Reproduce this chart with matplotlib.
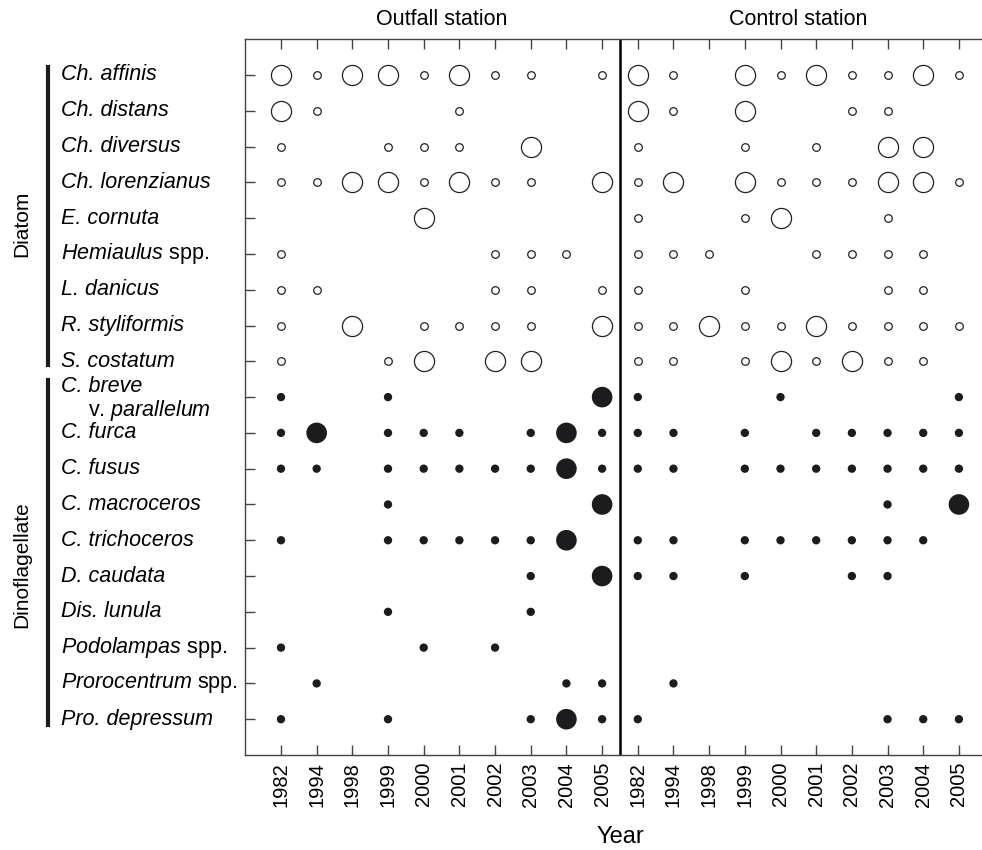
import matplotlib
matplotlib.use("Agg")
import matplotlib.pyplot as plt
import numpy as np

plt.rcParams['font.family'] = ['Liberation Sans', 'DejaVu Sans']
plt.rcParams['mathtext.fontset'] = 'custom'
plt.rcParams['mathtext.it'] = 'Liberation Sans:italic'
plt.rcParams['mathtext.rm'] = 'Liberation Sans'

# ---- data ----
years = ['1982', '1994', '1998', '1999', '2000', '2001', '2002', '2003', '2004', '2005']
stations = ['Outfall station', 'Control station']

species = ['Ch. affinis', 'Ch. distans', 'Ch. diversus', 'Ch. lorenzianus', 'E. cornuta',
           r'$\mathit{Hemiaulus}$ spp.', 'L. danicus', 'R. styliformis', 'S. costatum',
           'C. breve', 'C. furca', 'C. fusus', 'C. macroceros', 'C. trichoceros',
           'D. caudata', 'Dis. lunula', r'$\mathit{Podolampas}$ spp.',
           r'$\mathit{Prorocentrum}$ spp.', 'Pro. depressum']
group = ['Diatom'] * 9 + ['Dinoflagellate'] * 10

# 0 = absent, 1 = present, 2 = abundant
outfall = [
    [2, 1, 2, 2, 1, 2, 1, 1, 0, 1],
    [2, 1, 0, 0, 0, 1, 0, 0, 0, 0],
    [1, 0, 0, 1, 1, 1, 0, 2, 0, 0],
    [1, 1, 2, 2, 1, 2, 1, 1, 0, 2],
    [0, 0, 0, 0, 2, 0, 0, 0, 0, 0],
    [1, 0, 0, 0, 0, 0, 1, 1, 1, 0],
    [1, 1, 0, 0, 0, 0, 1, 1, 0, 1],
    [1, 0, 2, 0, 1, 1, 1, 1, 0, 2],
    [1, 0, 0, 1, 2, 0, 2, 2, 0, 0],
    [1, 0, 0, 1, 0, 0, 0, 0, 0, 2],
    [1, 2, 0, 1, 1, 1, 0, 1, 2, 1],
    [1, 1, 0, 1, 1, 1, 1, 1, 2, 1],
    [0, 0, 0, 1, 0, 0, 0, 0, 0, 2],
    [1, 0, 0, 1, 1, 1, 1, 1, 2, 0],
    [0, 0, 0, 0, 0, 0, 0, 1, 0, 2],
    [0, 0, 0, 1, 0, 0, 0, 1, 0, 0],
    [1, 0, 0, 0, 1, 0, 1, 0, 0, 0],
    [0, 1, 0, 0, 0, 0, 0, 0, 1, 1],
    [1, 0, 0, 1, 0, 0, 0, 1, 2, 1],
]
control = [
    [2, 1, 0, 2, 1, 2, 1, 1, 2, 1],
    [2, 1, 0, 2, 0, 0, 1, 1, 0, 0],
    [1, 0, 0, 1, 0, 1, 0, 2, 2, 0],
    [1, 2, 0, 2, 1, 1, 1, 2, 2, 1],
    [1, 0, 0, 1, 2, 0, 0, 1, 0, 0],
    [1, 1, 1, 0, 0, 1, 1, 1, 1, 0],
    [1, 0, 0, 1, 0, 0, 0, 1, 1, 0],
    [1, 1, 2, 1, 1, 2, 1, 1, 1, 1],
    [1, 1, 0, 1, 2, 1, 2, 1, 1, 0],
    [1, 0, 0, 0, 1, 0, 0, 0, 0, 1],
    [1, 1, 0, 1, 0, 1, 1, 1, 1, 1],
    [1, 1, 0, 1, 1, 1, 1, 1, 1, 1],
    [0, 0, 0, 0, 0, 0, 0, 1, 0, 2],
    [1, 1, 0, 1, 1, 1, 1, 1, 1, 0],
    [1, 1, 0, 1, 0, 0, 1, 1, 0, 0],
    [0, 0, 0, 0, 0, 0, 0, 0, 0, 0],
    [0, 0, 0, 0, 0, 0, 0, 0, 0, 0],
    [0, 1, 0, 0, 0, 0, 0, 0, 0, 0],
    [1, 0, 0, 0, 0, 0, 0, 1, 1, 1],
]

# ---- figure ----
W, H = 982, 850
fig = plt.figure(figsize=(W / 100, H / 100), dpi=100)
ax = fig.add_axes([245.3 / W, 1 - 755 / H, 1 - 245.3 / W, (755 - 39.2) / H])

open_sizes = {1: 30, 2: 210}
filled_sizes = {1: 36, 2: 220}
nyr = len(years)
for si, table in enumerate([outfall, control]):
    for r, row in enumerate(table):
        for c, v in enumerate(row):
            if v == 0:
                continue
            x = si * nyr + c + 1
            y = r + 1
            if group[r] == 'Diatom':
                ax.scatter(x, y, s=open_sizes[v], facecolor='white', edgecolor='#222222',
                           linewidth=0.9, zorder=3)
            else:
                ax.scatter(x, y, s=filled_sizes[v], facecolor='#1c1c1e', edgecolor='none', zorder=3)

ax.set_xlim(0, (W - 245.3) / 35.68)
ax.set_ylim(len(species) + 1, 0)

xt = np.arange(1, 2 * nyr + 1)
ax.set_xticks(xt)
ax.set_xticklabels(years * 2, rotation=90, fontsize=14.5)
ax.set_yticks(np.arange(1, len(species) + 1))
ax.set_yticklabels([])
ax.tick_params(direction='in', length=7, width=1, color='#444444', top=True, pad=5)

for sp in ['left', 'bottom', 'top']:
    ax.spines[sp].set_color('#444444')
    ax.spines[sp].set_linewidth(1.0)
ax.spines['right'].set_visible(False)

ax.axvline(nyr + 0.5, color='black', linewidth=1.8, zorder=2)

# species labels (labels with $...$ carry their own italic part)
lab_x = (61 - 245.3) / 35.68
for i, name in enumerate(species):
    y = i + 1
    style = 'normal' if '$' in name else 'italic'
    if name == 'C. breve':
        ax.text(lab_x, y - 0.3, name, fontstyle='italic', fontsize=15.5,
                ha='left', va='center', clip_on=False)
        ax.text(lab_x + 27 / 35.68, y + 0.37, r'v. $\mathit{parallelum}$', fontsize=15.5,
                ha='left', va='center', clip_on=False)
    else:
        ax.text(lab_x, y, name, fontstyle=style, fontsize=15.5,
                ha='left', va='center', clip_on=False)

# station titles
for si, st in enumerate(stations):
    ax.text(si * nyr + 5.5, -0.55, st, fontsize=15.5, ha='center', va='center', clip_on=False)

# group labels and bars
fig.text(22 / W, 1 - 224 / H, 'Diatom', rotation=90, fontsize=15, ha='center', va='center')
fig.text(22 / W, 1 - 565 / H, 'Dinoflagellate', rotation=90, fontsize=15, ha='center', va='center')
fig.add_artist(plt.Line2D([48 / W, 48 / W], [1 - 67 / H, 1 - 365 / H], color='#1c1c1e', linewidth=3))
fig.add_artist(plt.Line2D([48 / W, 48 / W], [1 - 380 / H, 1 - 725 / H], color='#1c1c1e', linewidth=3))

fig.text(620 / W, 1 - 837 / H, 'Year', fontsize=17, ha='center', va='center')

plt.savefig('out.png', dpi=100)
